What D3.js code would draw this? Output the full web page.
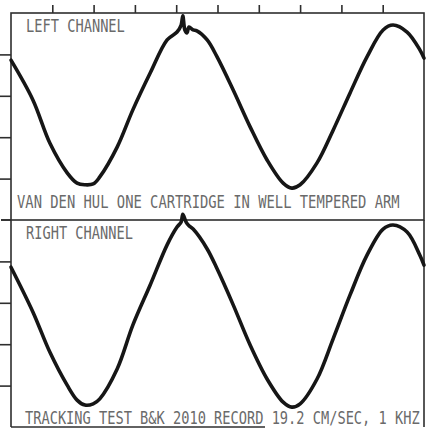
<!DOCTYPE html>
<html>
<head>
<meta charset="utf-8">
<script src="https://cdn.jsdelivr.net/npm/d3@7"></script>
<style>
  body { margin: 0; background: #fff; }
  svg { display: block; }
  .trace { fill: none; stroke: #161616; stroke-width: 3.6px; stroke-linejoin: round; stroke-linecap: round; }
  .frame { fill: none; stroke: #2e2e2e; stroke-width: 1.6px; }
  .tick line { stroke: #2e2e2e; stroke-width: 1.6px; }
  .lbl { font-family: "DejaVu Sans Mono", monospace; fill: #6a6a6a; }
</style>
</head>
<body>
<div id="scope"></div>
<script>
// screen grid: 10 divisions across, 5 divisions up (per channel)
const xTicks = [1, 2, 3, 4, 5, 6, 7, 8, 9];
const yTicks = [1, 2, 3, 4];

// traces, in divisions (x: time, y: from bottom of panel)
const leftX = [0.00, 0.53, 0.94, 1.36, 1.60, 1.79, 1.99, 2.15, 2.57, 2.95, 3.37, 3.78, 4.02, 4.12, 4.16, 4.21, 4.26, 4.31, 4.41, 4.50, 4.75, 4.99, 5.38, 5.79, 6.20, 6.59, 6.80, 7.00, 7.41, 7.80, 8.21, 8.62, 9.01, 9.25, 9.59, 9.90, 10.00];
const leftY = [3.86, 2.90, 1.86, 1.14, 0.89, 0.85, 0.87, 1.04, 1.76, 2.66, 3.55, 4.35, 4.54, 4.71, 4.93, 4.59, 4.52, 4.66, 4.59, 4.57, 4.35, 3.94, 3.14, 2.25, 1.45, 0.89, 0.77, 0.85, 1.38, 2.17, 3.07, 3.94, 4.59, 4.71, 4.54, 4.11, 3.91];

const rightX = [0.00, 0.53, 0.94, 1.36, 1.60, 1.79, 1.99, 2.15, 2.57, 2.95, 3.37, 3.78, 4.02, 4.12, 4.16, 4.24, 4.31, 4.41, 4.75, 4.99, 5.38, 5.79, 6.20, 6.59, 6.80, 7.00, 7.41, 7.80, 8.21, 8.62, 9.01, 9.25, 9.59, 9.90, 10.00];
const rightY = [3.86, 2.78, 1.81, 1.01, 0.65, 0.53, 0.56, 0.68, 1.40, 2.46, 3.43, 4.40, 4.83, 4.95, 5.14, 4.95, 4.86, 4.78, 4.30, 3.82, 2.95, 1.98, 1.16, 0.60, 0.48, 0.56, 1.16, 2.13, 3.19, 4.15, 4.78, 4.88, 4.71, 4.15, 3.91];

const topLabels = ["LEFT CHANNEL", "RIGHT CHANNEL"];
const bottomLabels = ["VAN DEN HUL ONE CARTRIDGE IN WELL TEMPERED ARM", "TRACKING TEST B&K 2010 RECORD 19.2 CM/SEC, 1 KHZ"];

var W = 428, H = 429,
    margin = {top: 13, left: 11, right: 4},
    width = W - margin.left - margin.right,
    panelH = 207,
    capH = 13; // lettering height on the photo

var svg = d3.select("#scope").append("svg")
    .attr("width", W)
    .attr("height", H);

var x = d3.scaleLinear().domain([0, 10]).range([0, width]),
    y = d3.scaleLinear().domain([0, 5]).range([panelH, 0]);

var line = d3.line()
    .curve(d3.curveCatmullRom.alpha(0.5))
    .x(function(d) { return x(d[0]); })
    .y(function(d) { return y(d[1]); });

// narrow, tall plotter lettering: pick size from wanted width, stretch vertically
function label(g, str, tx, ty, len) {
  var fs = len / (str.length * 0.602),
      sy = capH / (0.729 * fs);
  g.append("text").attr("class", "lbl")
    .attr("transform", "translate(" + tx + "," + ty + ") scale(1," + sy.toFixed(3) + ")")
    .style("font-size", fs.toFixed(2) + "px")
    .text(str);
}

var panels = [
  {xs: leftX, ys: leftY, top: topLabels[0], bottom: bottomLabels[0], topLen: 99, botLen: 383, botX: 6},
  {xs: rightX, ys: rightY, top: topLabels[1], bottom: bottomLabels[1], topLen: 107, botLen: 395, botX: 14}
];

panels.forEach(function(p, i) {
  var g = svg.append("g")
    .attr("transform", "translate(" + margin.left + "," + (margin.top + i * panelH) + ")");

  // frame (bottom edge of the lower panel is only partly visible in the photo)
  if (i == 0) {
    g.append("rect").attr("class", "frame")
      .attr("x", 0).attr("y", 0).attr("width", width).attr("height", panelH);
    g.append("g").attr("class", "axis")
      .call(d3.axisTop(x).tickValues(xTicks).tickSize(8).tickFormat(""))
      .select(".domain").remove();
  } else {
    g.append("path").attr("class", "frame")
      .attr("d", "M0,0V" + panelH + "M" + width + ",0V" + panelH);
    g.append("line").attr("class", "frame")
      .attr("x1", 0).attr("x2", x(6.15)).attr("y1", panelH).attr("y2", panelH);
  }
  // separator / top edge sticks out to the left
  g.append("line").attr("class", "frame")
    .attr("x1", -10).attr("x2", 0).attr("y1", i == 0 ? panelH : 0).attr("y2", i == 0 ? panelH : 0);

  g.append("g").attr("class", "axis")
    .call(d3.axisLeft(y).tickValues(yTicks).tickSize(11).tickFormat(""))
    .select(".domain").remove();

  label(g, p.top, 15, 19, p.topLen);
  label(g, p.bottom, p.botX, panelH - 12 + i * 9, p.botLen);

  var pts = p.xs.map(function(v, k) { return [v, p.ys[k]]; });
  g.append("path").attr("class", "trace").attr("d", line(pts));
});
</script>
</body>
</html>
